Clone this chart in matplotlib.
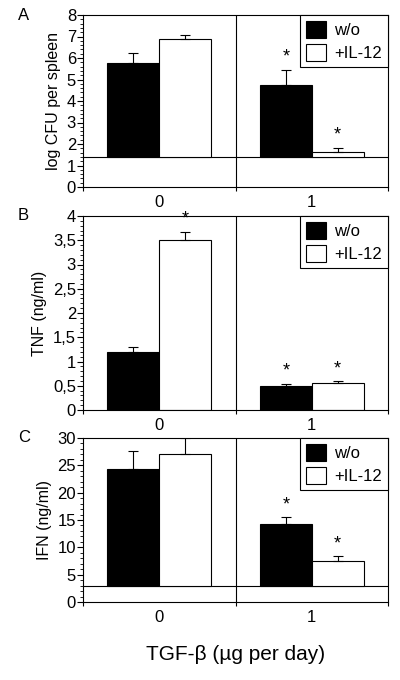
import numpy as np
import matplotlib
matplotlib.use('Agg')
import matplotlib.pyplot as plt
from matplotlib.ticker import MultipleLocator, FuncFormatter
from matplotlib.patches import Patch

plt.rcParams['font.family'] = ['Liberation Sans', 'DejaVu Sans']

groups = ['0', '1']
series = ['w/o', '+IL-12']

# panel A: log CFU per spleen (detection limit 1.4)
cfu_wo = [5.75, 4.74]
cfu_wo_err = [0.50, 0.70]
cfu_wo_star = [False, True]
cfu_il12 = [6.87, 1.63]
cfu_il12_err = [0.20, 0.20]
cfu_il12_star = [False, True]

# panel B: TNF (ng/ml)
tnf_wo = [1.20, 0.50]
tnf_wo_err = [0.10, 0.035]
tnf_wo_star = [False, True]
tnf_il12 = [3.50, 0.556]
tnf_il12_err = [0.17, 0.035]
tnf_il12_star = [True, True]

# panel C: IFN (ng/ml) (detection limit 3)
ifn_wo = [24.4, 14.3]
ifn_wo_err = [3.3, 1.2]
ifn_wo_star = [False, True]
ifn_il12 = [27.1, 7.55]
ifn_il12_err = [2.9, 0.8]
ifn_il12_star = [False, True]

panels = [
    dict(tag='A', ylabel='log CFU per spleen', wo=cfu_wo, wo_err=cfu_wo_err, wo_star=cfu_wo_star,
         il=cfu_il12, il_err=cfu_il12_err, il_star=cfu_il12_star, base=1.4,
         ylim=8, major=1, minor=0.2, rect=[0.2075, 493/680, 0.7625, 172/680]),
    dict(tag='B', ylabel='TNF (ng/ml)', wo=tnf_wo, wo_err=tnf_wo_err, wo_star=tnf_wo_star,
         il=tnf_il12, il_err=tnf_il12_err, il_star=tnf_il12_star, base=0,
         ylim=4, major=0.5, minor=0.1, rect=[0.2075, 270/680, 0.7625, 194/680]),
    dict(tag='C', ylabel='IFN (ng/ml)', wo=ifn_wo, wo_err=ifn_wo_err, wo_star=ifn_wo_star,
         il=ifn_il12, il_err=ifn_il12_err, il_star=ifn_il12_star, base=3.0,
         ylim=30, major=5, minor=1, rect=[0.2075, 78/680, 0.7625, 164/680]),
]

fig = plt.figure(figsize=(4, 6.8), dpi=100)
x = np.arange(len(groups))
w = 0.34

for p in panels:
    ax = fig.add_axes(p['rect'])
    base = p['base']
    wo = np.array(p['wo'])
    il = np.array(p['il'])
    ax.bar(x - w/2, wo - base, w, bottom=base, color='black', edgecolor='black', linewidth=0.8, zorder=2)
    ax.bar(x + w/2, il - base, w, bottom=base, color='white', edgecolor='black', linewidth=0.8, zorder=2)
    sets = [(x - w/2, wo, p['wo_err'], p['wo_star']), (x + w/2, il, p['il_err'], p['il_star'])]
    for xs, vals, errs, stars in sets:
        ax.errorbar(xs, vals, yerr=[np.zeros(len(vals)), errs], fmt='none',
                    ecolor='black', elinewidth=0.8, capsize=3.5, capthick=0.8, zorder=3)
        for gi in range(len(groups)):
            if stars[gi]:
                ax.annotate('*', (xs[gi], vals[gi] + errs[gi]), xytext=(0, 3),
                            textcoords='offset points', ha='center', va='bottom', fontsize=13)
    if base > 0:
        ax.axhline(base, color='black', lw=0.8, zorder=1)
    ax.axvline(0.5, color='black', lw=0.8, zorder=1)
    ax.set_xlim(-0.5, 1.5)
    ax.set_ylim(0, p['ylim'])
    ax.yaxis.set_major_locator(MultipleLocator(p['major']))
    ax.yaxis.set_minor_locator(MultipleLocator(p['minor']))
    ax.yaxis.set_major_formatter(FuncFormatter(lambda v, pos: f'{v:g}'.replace('.', ',')))
    ax.set_xticks(x)
    ax.set_xticklabels(groups)
    ax.set_xticks([-0.5, 0.5, 1.5], minor=True)
    ax.tick_params(axis='x', which='major', length=0, pad=6, labelsize=12)
    ax.tick_params(axis='x', which='minor', length=3, width=0.8, direction='out')
    ax.tick_params(axis='y', which='major', length=4, width=0.8, direction='out', labelsize=12, pad=1)
    ax.tick_params(axis='y', which='minor', length=2, width=0.6, direction='out')
    for s in ax.spines.values():
        s.set_linewidth(0.8)
    ax.set_ylabel(p['ylabel'], fontsize=11.5, labelpad=4)
    handles = [Patch(facecolor='black', edgecolor='black', lw=0.8),
               Patch(facecolor='white', edgecolor='black', lw=0.8)]
    leg = ax.legend(handles, series, loc='upper right', borderaxespad=0, fontsize=12,
                    frameon=True, fancybox=False, edgecolor='black', framealpha=1,
                    handlelength=1.2, handleheight=1.2, handletextpad=0.5,
                    labelspacing=0.35, borderpad=0.35)
    leg.get_frame().set_linewidth(0.8)
    fig.text(0.045, p['rect'][1] + p['rect'][3], p['tag'], fontsize=12, ha='left', va='center')

fig.text(0.59, 25/680, 'TGF-β (µg per day)', fontsize=15, ha='center', va='center')

fig.savefig('out.png', dpi=100)
